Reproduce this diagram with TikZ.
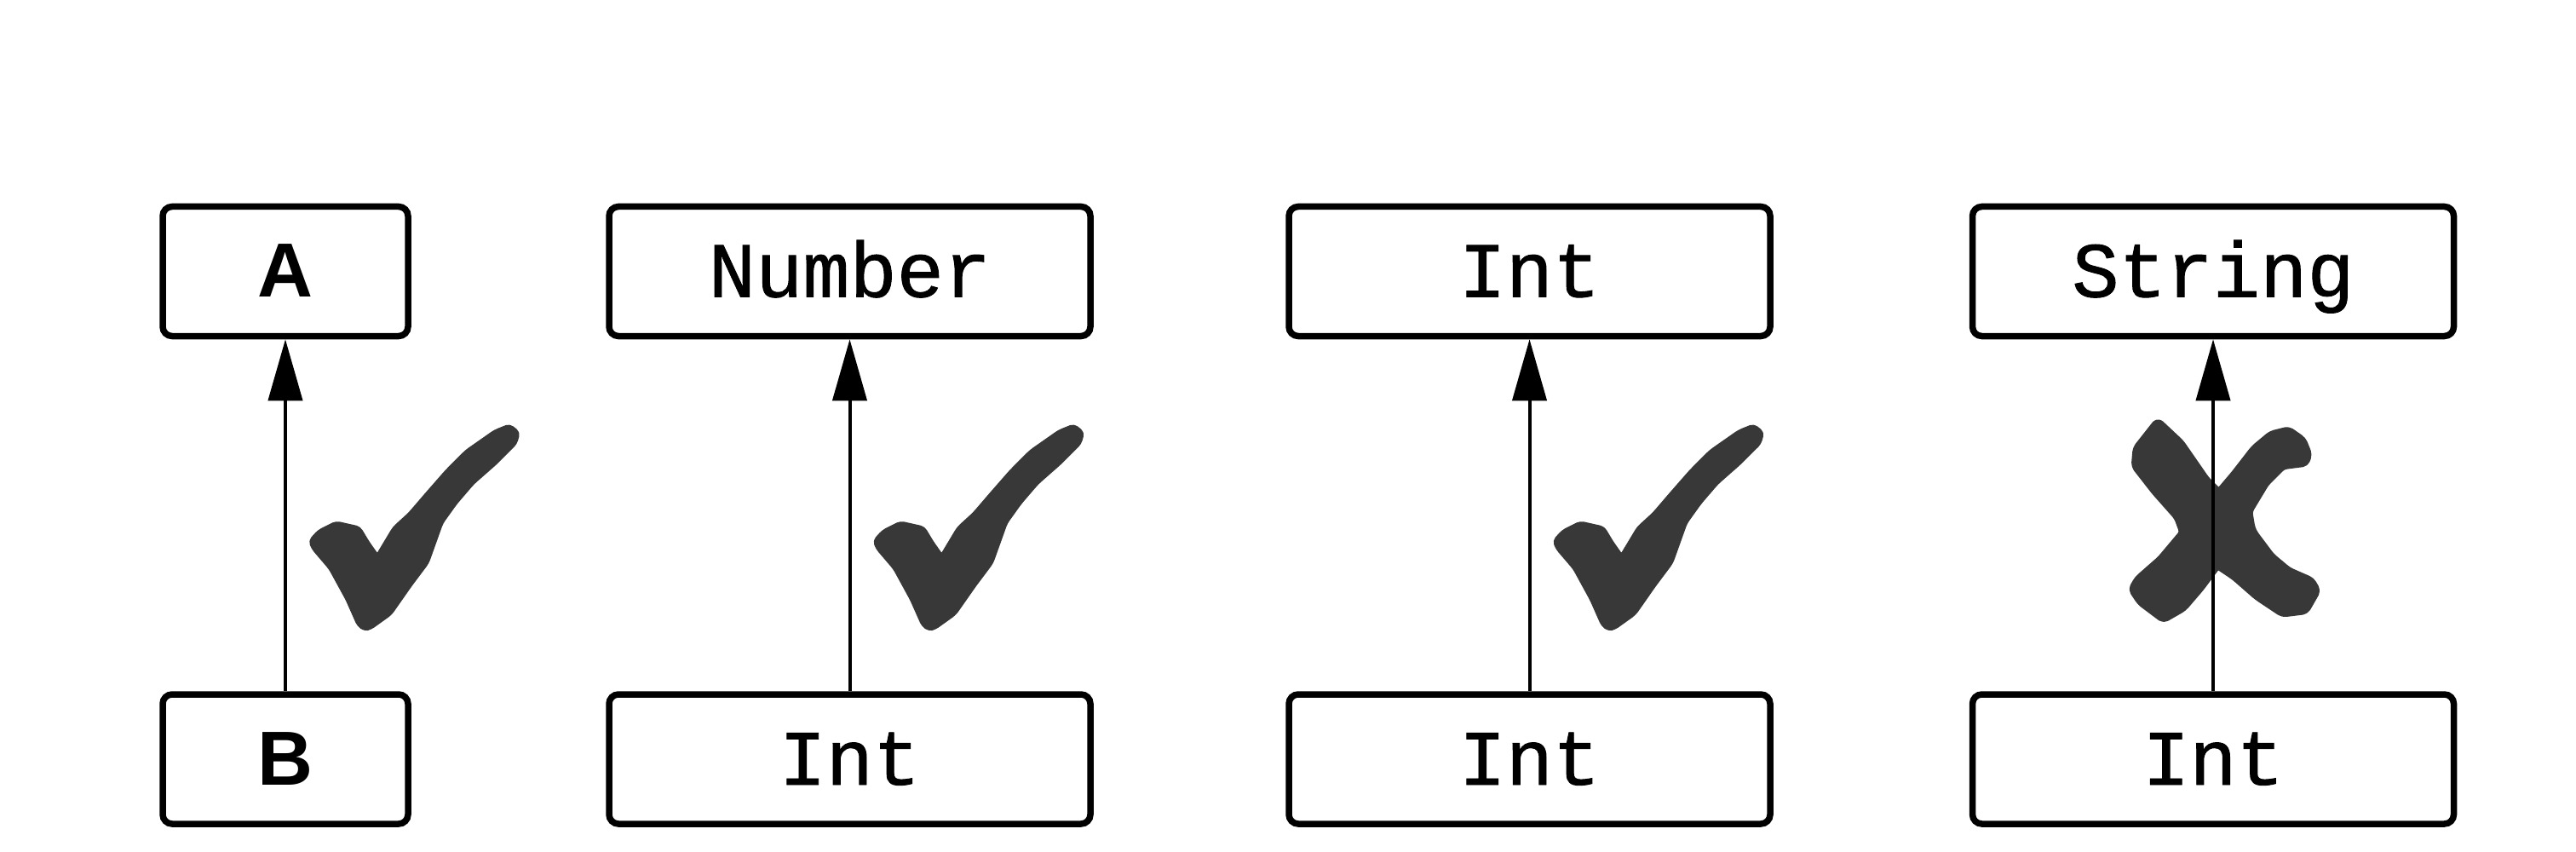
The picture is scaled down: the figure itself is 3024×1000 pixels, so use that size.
\documentclass[tikz,border=0pt]{standalone}
\usepackage{fontspec}
\newfontfamily\boxmono[FakeBold=1]{Liberation Mono}
\newfontfamily\boxsans{Liberation Sans}
\usetikzlibrary{arrows.meta}
\definecolor{markgray}{HTML}{383838}
\tikzset{
  typebox/.style={draw=black, line width=7.5pt, rounded corners=11pt, rectangle,
    minimum height=152pt, inner sep=0pt, text height=65pt, text depth=5pt},
  narrowbox/.style={typebox, minimum width=288pt, font=\fontsize{90}{100}\selectfont\boxsans\bfseries},
  widebox/.style={typebox, minimum width=565pt, font=\fontsize{92}{100}\selectfont\boxmono},
  subarrow/.style={line width=4pt, -{Triangle[length=72pt, width=40pt]}},
  markfill/.style={fill=markgray, draw=markgray, line width=5pt, line join=round, rounded corners=4pt},
  tickmark/.pic={
    \filldraw[markfill]
      (263,500) -- (273,508) -- (269.7,520) -- (246.3,543.3) -- (219.7,566.7)
      -- (199.7,590) -- (183,613.3) -- (166.3,660) -- (146.3,686.7) -- (123,720)
      -- (99.7,736.7) -- (93,738.3) -- (86.3,733.3) -- (73,703.3) -- (53,666.7)
      -- (33,643.3) -- (29.7,635) -- (39.7,624) -- (59.7,614) -- (86.3,620)
      -- (96.3,636.7) -- (108,653.3) -- (128,620) -- (146.3,603.3) -- (166.3,580)
      -- (189.7,553.3) -- (213,530) -- (246.3,506.7) -- cycle;
  },
  crossmark/.pic={
    \filldraw[markfill, line width=9pt]
      (-65,495) -- (-38.3,520) -- (-8.3,563.3) -- (6.7,578.3) -- (25,556.7)
      -- (48.3,526.7) -- (68.3,510) -- (88.3,505) -- (105,516.7) -- (111.7,533.3)
      -- (108.3,543.3) -- (81.7,546.7) -- (61.7,566.7) -- (41.7,600) -- (45,620)
      -- (48.3,626.7) -- (68.3,653.3) -- (88.3,670) -- (115,681.7) -- (121.7,693.3)
      -- (108.3,716.7) -- (81.7,720) -- (51.7,700) -- (25,676.7) -- (5,663.3)
      -- (-15,690) -- (-35,713.3) -- (-58.3,726.7) -- (-85,706.7) -- (-95,691.7)
      -- (-88.3,680) -- (-61.7,656.7) -- (-35,625) -- (-41.7,606.7) -- (-68.3,576.7)
      -- (-91.7,546.7) -- (-90,526.7) -- cycle;
  }
}
\begin{document}
\begin{tikzpicture}[x=1pt, y=-1pt]
  \useasboundingbox (0,0) rectangle (3024,1000);
  \coordinate (origin) at (0,0);
  % column 1
  \node[narrowbox] (A) at (335,318.5) {A};
  \node[narrowbox] (B) at (335,891) {B};
  % column 2
  \node[widebox] (num) at (997.5,318.5) {Number};
  \node[widebox] (int1) at (997.5,891) {Int};
  % column 3
  \node[widebox] (int2) at (1795.5,318.5) {Int};
  \node[widebox] (int3) at (1795.5,891) {Int};
  % column 4
  \node[widebox] (str) at (2598,318.5) {String};
  \node[widebox] (int4) at (2598,891) {Int};
  % marks
  \pic at (A.south |- origin) {tickmark};
  \pic at (num.south |- origin) {tickmark};
  \pic at (int2.south |- origin) {tickmark};
  \pic at (str.south |- origin) {crossmark};
  % arrows
  \draw[subarrow] (B.north) -- (A.south);
  \draw[subarrow] (int1.north) -- (num.south);
  \draw[subarrow] (int3.north) -- (int2.south);
  \draw[subarrow] (int4.north) -- (str.south);
\end{tikzpicture}
\end{document}
